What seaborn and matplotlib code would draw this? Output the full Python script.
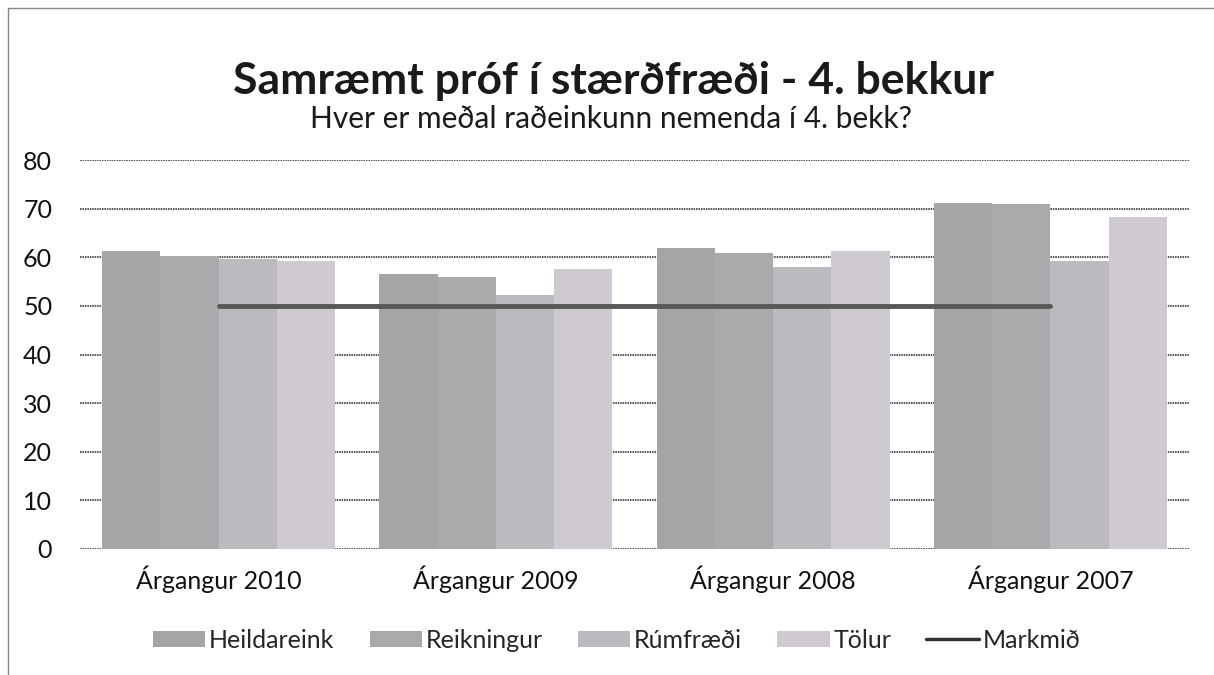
import matplotlib
matplotlib.use('Agg')
import matplotlib.pyplot as plt
import matplotlib.patches as mpatches
import matplotlib.lines as mlines
import seaborn as sns
import pandas as pd

years = ['Árgangur 2010', 'Árgangur 2009', 'Árgangur 2008', 'Árgangur 2007']
series = ['Heildareink', 'Reikningur', 'Rúmfræði', 'Tölur']
heildareink = [61.3, 56.6, 61.9, 71.1]
reikningur = [60.2, 55.9, 60.8, 71.0]
rumfraedi = [59.6, 52.3, 57.9, 59.3]
tolur = [59.3, 57.6, 61.3, 68.2]
markmid = [50, 50, 50, 50]

colors = ['#a5a4a6', '#aba9ab', '#bbbabe', '#cfcad2']

df = pd.DataFrame({
    'year': years * 4,
    'series': [s for s in series for _ in years],
    'value': heildareink + reikningur + rumfraedi + tolur,
})

sns.set_style('white')
plt.rcParams['font.family'] = ['Lato', 'DejaVu Sans']

fig = plt.figure(figsize=(12.14, 6.75), dpi=100)
ax = fig.add_axes([80 / 1214, 1 - 549 / 675, (1189 - 80) / 1214, (549 - 160) / 675])

sns.barplot(data=df, x='year', y='value', hue='series', order=years, hue_order=series,
            palette=colors, width=0.84, gap=0, saturation=1, legend=False,
            linewidth=0, edgecolor='none', ax=ax)
ax.plot(range(len(years)), markmid, color='#585858', lw=3.5, zorder=5)

ax.set_ylim(0, 80)
ax.set_xlim(-0.5, 3.5)
ax.set_yticks(range(0, 81, 10))
ax.yaxis.grid(True, ls=(0, (1, 0.6)), color='#222222', lw=1.1)
ax.set_axisbelow(True)
for s in ax.spines.values():
    s.set_visible(False)
ax.tick_params(axis='y', length=0, pad=20, labelsize=18, labelcolor='#111111')
ax.tick_params(axis='x', length=0, pad=12, labelsize=18, labelcolor='#111111')
ax.set_xlabel('')
ax.set_ylabel('')

fig.text(0.505, 1 - 81 / 675, 'Samræmt próf í stærðfræði - 4. bekkur', ha='center', va='center',
         fontsize=32, fontweight='bold', color='#1a1a1a')
fig.text(0.503, 1 - 119 / 675, 'Hver er meðal raðeinkunn nemenda í 4. bekk?', ha='center', va='center',
         fontsize=21.5, color='#1a1a1a')

handles = [mpatches.Patch(facecolor=c, edgecolor='none', label=s) for c, s in zip(colors, series)]
handles.append(mlines.Line2D([], [], color='#333333', lw=2.5, label='Markmið'))
fig.legend(handles=handles, loc='center', bbox_to_anchor=(0.508, 1 - 640 / 675), ncol=5,
           frameon=False, fontsize=18, handlelength=2.1, handleheight=0.6,
           handletextpad=0.15, columnspacing=1.4)

# outer border of the scanned chart
fig.patches.append(mpatches.Rectangle((8 / 1214, -0.05), 1.2, 1 - 8 / 675 + 0.05,
                                      transform=fig.transFigure, fill=False,
                                      edgecolor='#888888', lw=1))

fig.savefig('out.png', dpi=100)
